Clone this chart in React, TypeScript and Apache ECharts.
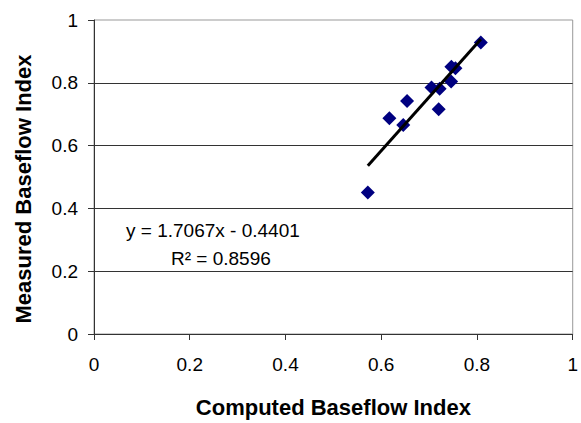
import React, { useEffect, useRef } from "react";
import * as echarts from "echarts";

const computedIndex = [0.572, 0.617, 0.646, 0.654, 0.705, 0.722, 0.72, 0.746, 0.7465, 0.755, 0.808];
const measuredIndex = [0.451, 0.687, 0.666, 0.742, 0.785, 0.781, 0.716, 0.804, 0.851, 0.846, 0.928];
const trendSlope = 1.7067;
const trendIntercept = -0.4401;
const axisTicks = [0, 0.2, 0.4, 0.6, 0.8, 1];
const xTitle = "Computed Baseflow Index";
const yTitle = "Measured Baseflow Index";
const equationLine = "y = 1.7067x - 0.4401";
const rSquaredLine = "R\u00B2 = 0.8596";

const FONT = "'Liberation Sans', Arial, sans-serif";

export default function App() {
  const ref = useRef<HTMLDivElement>(null);
  useEffect(() => {
    if (!ref.current) return;
    const chart = echarts.init(ref.current, undefined, { renderer: "svg" });
    const points = computedIndex.map((x, i) => [x, measuredIndex[i]]);
    const xMin = Math.min(...computedIndex);
    const xMax = Math.max(...computedIndex);
    const trend = [
      [xMin, trendSlope * xMin + trendIntercept],
      [xMax, trendSlope * xMax + trendIntercept],
    ];
    const step = axisTicks[1] - axisTicks[0];
    const axisCommon = {
      type: "value" as const,
      min: axisTicks[0],
      max: axisTicks[axisTicks.length - 1],
      interval: step,
      axisLine: { show: true, lineStyle: { color: "#333", width: 1 } },
      axisTick: { show: true, inside: false, length: 6, lineStyle: { color: "#333" } },
    };
    chart.setOption({
      animation: false,
      backgroundColor: "#fff",
      textStyle: { fontFamily: FONT },
      grid: {
        left: 94,
        top: 20,
        width: 484,
        height: 317,
        show: true,
        borderColor: "#999",
        borderWidth: 1,
        backgroundColor: "transparent",
      },
      xAxis: {
        ...axisCommon,
        name: xTitle,
        nameLocation: "middle",
        nameGap: 62,
        nameTextStyle: { fontFamily: FONT, fontSize: 22, fontWeight: "bold", color: "#000" },
        axisLabel: { fontFamily: FONT, fontSize: 19, color: "#000", margin: 21 },
        splitLine: { show: false },
      },
      yAxis: {
        ...axisCommon,
        axisLabel: { fontFamily: FONT, fontSize: 19, color: "#000", margin: 16 },
        splitLine: {
          show: true,
          showMinLine: false,
          showMaxLine: false,
          lineStyle: { color: "#333", width: 1 },
        },
      },
      graphic: [
        {
          type: "text",
          x: 23,
          y: 189,
          rotation: Math.PI / 2,
          style: {
            text: yTitle,
            font: `bold 22px ${FONT}`,
            fill: "#000",
            align: "center",
            verticalAlign: "middle",
          },
        },
        {
          type: "text",
          x: 126,
          y: 230,
          style: {
            text: equationLine,
            font: `19px ${FONT}`,
            fill: "#000",
            align: "left",
            verticalAlign: "middle",
          },
        },
        {
          type: "text",
          x: 171,
          y: 258,
          style: {
            text: rSquaredLine,
            font: `19px ${FONT}`,
            fill: "#000",
            align: "left",
            verticalAlign: "middle",
          },
        },
      ],
      series: [
        {
          type: "scatter",
          data: points,
          symbol: "diamond",
          symbolSize: 14,
          itemStyle: { color: "#000080", opacity: 1 },
          z: 2,
        },
        {
          type: "line",
          data: trend,
          showSymbol: false,
          symbol: "none",
          lineStyle: { color: "#000", width: 3 },
          z: 3,
        },
      ],
    });
    return () => chart.dispose();
  }, []);
  return (
    <div
      ref={ref}
      style={{ position: "fixed", left: 0, top: 0, width: 581, height: 423, background: "#fff" }}
    />
  );
}
